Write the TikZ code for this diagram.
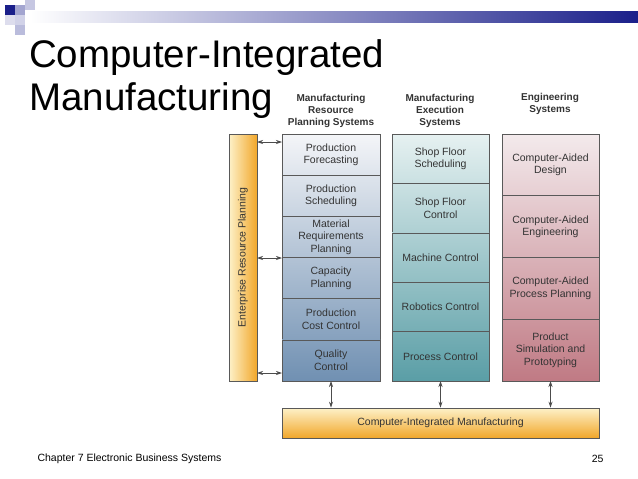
\documentclass[tikz,border=0pt]{standalone}
\usepackage{fontspec}
\setmainfont{Liberation Sans}
\usetikzlibrary{arrows.meta}
\definecolor{navy}{HTML}{1A1F8A}
\definecolor{mA}{HTML}{F4F5F8}\definecolor{mB}{HTML}{7090B2}
\definecolor{eA}{HTML}{E6F1F1}\definecolor{eB}{HTML}{5A9EA6}
\definecolor{gA}{HTML}{F3EAEC}\definecolor{gB}{HTML}{C07A84}
\definecolor{oA}{HTML}{FDF1C8}\definecolor{oB}{HTML}{F2A72A}
\tikzset{cell/.style={draw=gray!70!black,line width=0.6pt},
txt/.style={align=center,font=\fontsize{10.5}{12.5}\selectfont,text=black!80,inner sep=0pt},
hdr/.style={align=center,font=\bfseries\fontsize{10}{12}\selectfont,text=black!80},
dbl/.style={{Stealth[length=6pt,width=4pt]}-{Stealth[length=6pt,width=4pt]},line width=0.7pt,gray!60!black}}
\begin{document}
\begin{tikzpicture}[x=1pt,y=-1pt]
\useasboundingbox (0,0) rectangle (638,479);
% top decoration
\shade[left color=white,right color=navy] (30,11) rectangle (638,22);
\fill[navy] (5,5) rectangle (15,15);
\fill[navy!40] (15,5) rectangle (25,15);
\fill[navy!25] (25,0) rectangle (35,10);
\fill[navy!20] (15,15) rectangle (25,25);
\fill[navy!30] (15,25) rectangle (25,35);
\fill[navy!15] (5,15) rectangle (15,25);
\node[anchor=west,font=\fontsize{38.5}{43}\selectfont,align=left,inner sep=0pt] (title) at (29,79) {Computer-Integrated\\Manufacturing};
% headers
\node[hdr] (h1) at (331,111) {Manufacturing\\Resource\\Planning Systems};
\node[hdr] (h2) at (440,111) {Manufacturing\\Execution\\Systems};
\node[hdr] (h3) at (550,104) {Engineering\\Systems};
% ERP
\node[cell,left color=oA,right color=oB,minimum width=28,minimum height=247,inner sep=0pt] (erp) at (243,257.5) {};
\node[rotate=90,txt] at (erp) {Enterprise Resource Planning};
\foreach \t [count=\i from 0] in {Production\\Forecasting,Production\\Scheduling,Material\\Requirements\\Planning,Capacity\\Planning,Production\\Cost Control,Quality\\Control}{
 \pgfmathsetmacro\ya{134+\i*41.17}\pgfmathsetmacro\yb{\ya+41.17}
 \pgfmathsetmacro\pa{\i*100/6}\pgfmathsetmacro\pb{(\i+1)*100/6}
 \colorlet{ct}{mB!\pa!mA}\colorlet{cb}{mB!\pb!mA}
 \path[cell,top color=ct,bottom color=cb] (282,\ya) rectangle (380,\yb);
 \node[txt] (m\i) at (331,{(\ya+\yb)/2}) {\t};}
\foreach \t [count=\i from 0] in {Shop Floor\\Scheduling,Shop Floor\\Control,Machine Control,Robotics Control,Process Control}{
 \pgfmathsetmacro\ya{134+\i*49.4}\pgfmathsetmacro\yb{\ya+49.4}
 \pgfmathsetmacro\pa{\i*100/5}\pgfmathsetmacro\pb{(\i+1)*100/5}
 \colorlet{ct}{eB!\pa!eA}\colorlet{cb}{eB!\pb!eA}
 \path[cell,top color=ct,bottom color=cb] (392,\ya) rectangle (489,\yb);
 \node[txt] (x\i) at (440.5,{(\ya+\yb)/2}) {\t};}
\foreach \t [count=\i from 0] in {Computer-Aided\\Design,Computer-Aided\\Engineering,Computer-Aided\\Process Planning,Product\\Simulation and\\Prototyping}{
 \pgfmathsetmacro\ya{134+\i*61.75}\pgfmathsetmacro\yb{\ya+61.75}
 \pgfmathsetmacro\pa{\i*100/4}\pgfmathsetmacro\pb{(\i+1)*100/4}
 \colorlet{ct}{gB!\pa!gA}\colorlet{cb}{gB!\pb!gA}
 \path[cell,top color=ct,bottom color=cb] (502,\ya) rectangle (599,\yb);
 \node[txt] (g\i) at (550.5,{(\ya+\yb)/2}) {\t};}
% CIM bar
\node[cell,top color=oA,bottom color=oB,minimum width=317,minimum height=30,inner sep=0pt,font=\fontsize{10.5}{12}\selectfont,text=black!80] (cim) at (440.5,423) {Computer-Integrated Manufacturing};
% arrows
\coordinate (a1) at (257,142);\coordinate (b1) at (282,142);
\coordinate (a2) at (257,258);\coordinate (b2) at (282,258);
\coordinate (a3) at (257,373);\coordinate (b3) at (282,373);
\draw[dbl] (a1)--(b1);\draw[dbl] (a2)--(b2);\draw[dbl] (a3)--(b3);
\draw[dbl] (m5.center |- 0,381) -- (m5.center |- cim.north);
\draw[dbl] (x4.center |- 0,381) -- (x4.center |- cim.north);
\draw[dbl] (g3.center |- 0,381) -- (g3.center |- cim.north);
% footer
\node[anchor=west,font=\fontsize{10.5}{13}\selectfont] (foot) at (34,459) {Chapter 7 Electronic Business Systems};
\node[anchor=east,font=\fontsize{10.5}{13}\selectfont] (pg) at (607,459) {25};
\end{tikzpicture}
\end{document}
